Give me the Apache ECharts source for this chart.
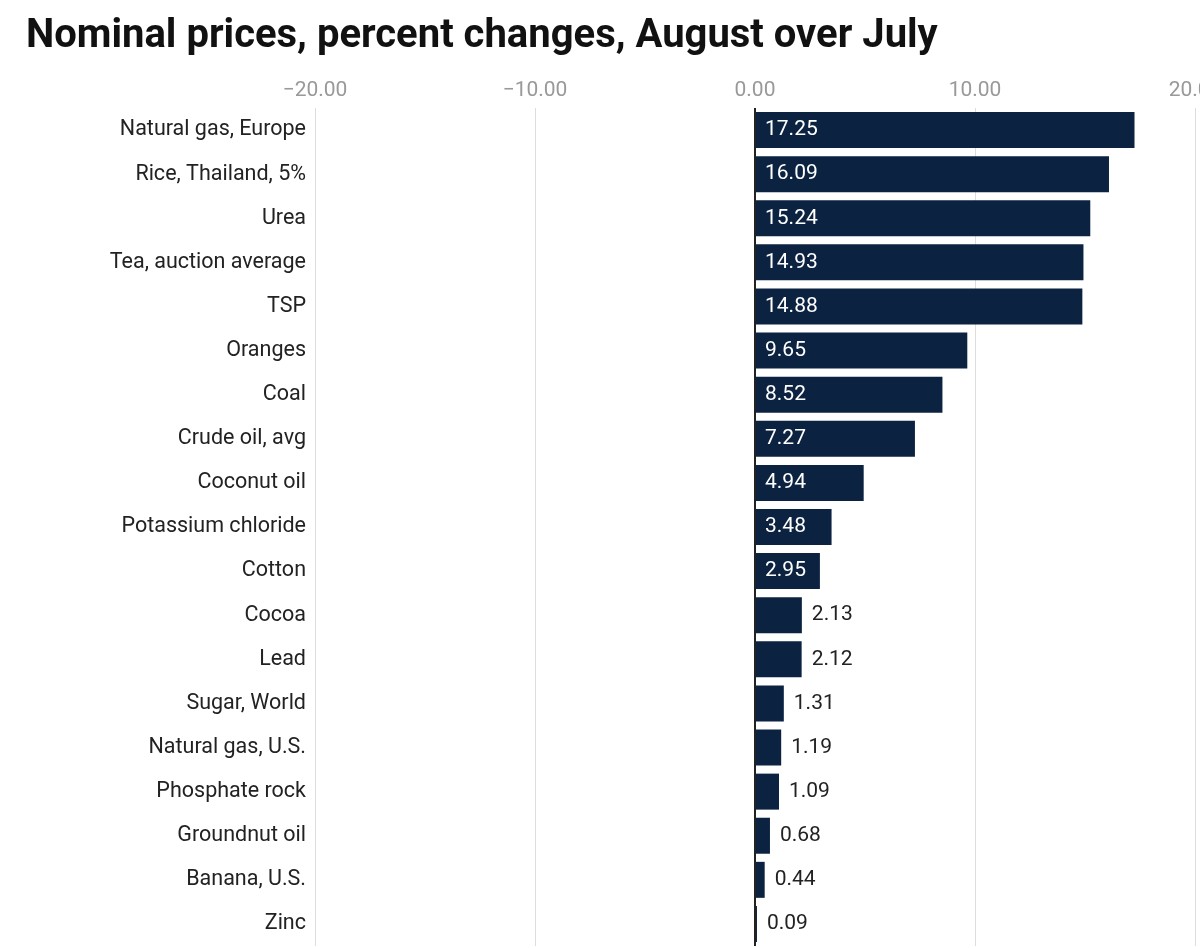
<!DOCTYPE html>
<html>
<head>
<meta charset="utf-8">
<script src="https://cdn.jsdelivr.net/npm/echarts@6/dist/echarts.min.js"></script>
<style>
  body { margin: 0; background: #fff; }
  #main { width: 1200px; height: 948px; }
</style>
</head>
<body>
<div id="main"></div>
<script>
// 商品名称（从上到下）
var categories = ['Natural gas, Europe', 'Rice, Thailand, 5%', 'Urea', 'Tea, auction average', 'TSP',
    'Oranges', 'Coal', 'Crude oil, avg', 'Coconut oil', 'Potassium chloride', 'Cotton', 'Cocoa',
    'Lead', 'Sugar, World', 'Natural gas, U.S.', 'Phosphate rock', 'Groundnut oil', 'Banana, U.S.', 'Zinc'];
// 百分比变化
var values = [17.25, 16.09, 15.24, 14.93, 14.88, 9.65, 8.52, 7.27, 4.94, 3.48, 2.95, 2.13,
    2.12, 1.31, 1.19, 1.09, 0.68, 0.44, 0.09];
// 刻度
var ticks = [-20, -10, 0, 10, 20];

var myChart = echarts.init(document.getElementById('main'));

var data = values.map(function (v) {
    var inside = v >= 2.5;
    return {
        value: v,
        label: inside
            ? { position: 'insideLeft', color: '#fff', distance: 10 }
            : { position: 'right', color: '#222', distance: 10 }
    };
});

var option = {
    animation: false,
    title: {
        text: 'Nominal prices, percent changes, August over July',
        left: 21, top: 12,
        textStyle: { fontFamily: 'Roboto', fontSize: 40, fontWeight: 'bold', color: '#111' }
    },
    grid: { left: 315, right: 5, top: 108, bottom: 2, outerBoundsMode: 'none', containLabel: false },
    xAxis: {
        type: 'value',
        position: 'top',
        min: ticks[0], max: ticks[ticks.length - 1], interval: 10,
        axisLine: { show: false },
        axisTick: { show: false },
        splitLine: { lineStyle: { color: '#ddd', width: 1 } },
        axisLabel: {
            color: '#999', fontFamily: 'Roboto', fontSize: 21, margin: 7,
            formatter: function (v) { return (v < 0 ? '\u2212' + Math.abs(v).toFixed(2) : v.toFixed(2)); }
        }
    },
    yAxis: {
        type: 'category',
        inverse: true,
        data: categories,
        axisLine: { show: false },
        axisTick: { show: false },
        axisLabel: { color: '#222', fontFamily: 'Roboto', fontSize: 21.5, margin: 9 }
    },
    series: [{
        type: 'bar',
        data: data,
        barWidth: 36,
        itemStyle: { color: '#0b2240' },
        label: { show: true, fontFamily: 'Roboto', fontSize: 21 },
        markLine: {
            silent: true, symbol: 'none', label: { show: false },
            lineStyle: { color: '#222', width: 2, type: 'solid' },
            data: [{ xAxis: 0 }]
        }
    }]
};

myChart.setOption(option);
</script>
</body>
</html>
